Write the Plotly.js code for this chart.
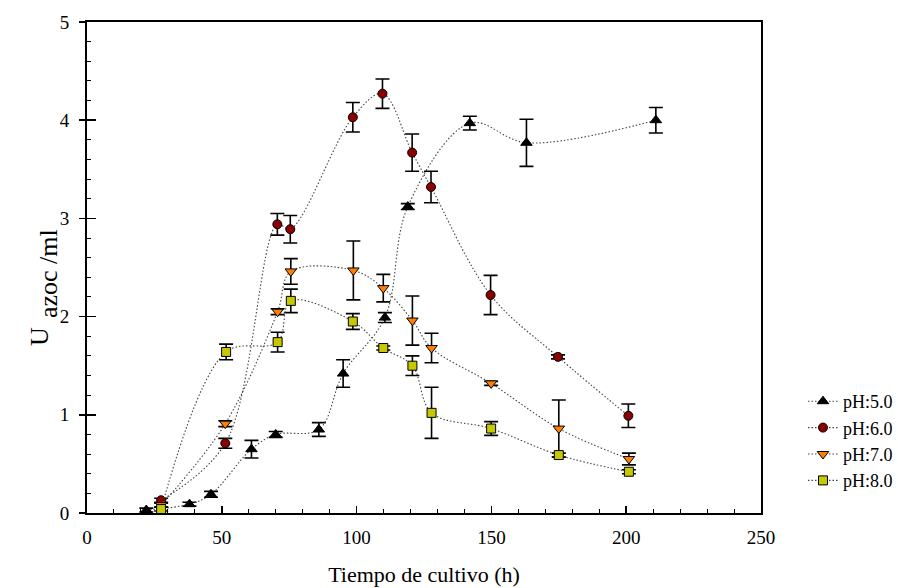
<!DOCTYPE html>
<html>
<head>
<meta charset="utf-8">
<script src="https://cdn.plot.ly/plotly-3.0.1.min.js"></script>
<style>html,body{margin:0;padding:0;background:#fff;}#chart{width:898px;height:588px;}</style>
</head>
<body>
<div id="chart"></div>
<script>
// pH 5.0
const x5 = [22, 38, 46, 61, 70, 86, 95, 110.5, 119, 142, 163, 211];
const y5 = [0.03, 0.09, 0.19, 0.65, 0.80, 0.85, 1.42, 1.99, 3.12, 3.97, 3.77, 4.00];
const e5 = [0.02, 0.02, 0.03, 0.09, 0.03, 0.07, 0.14, 0.05, 0.03, 0.07, 0.24, 0.13];
// pH 6.0
const x6 = [27.5, 51.3, 70.6, 75.4, 98.6, 109.6, 120.6, 127.6, 149.7, 174.7, 200.8];
const y6 = [0.13, 0.71, 2.94, 2.89, 4.03, 4.27, 3.67, 3.32, 2.22, 1.59, 0.99];
const e6 = [0.02, 0.05, 0.11, 0.14, 0.15, 0.15, 0.19, 0.16, 0.20, 0.02, 0.12];
// pH 7.0
const x7 = [27.5, 51.3, 70.7, 75.6, 98.8, 109.9, 120.7, 127.8, 149.9, 175, 201];
const y7 = [0.08, 0.91, 2.05, 2.46, 2.47, 2.29, 1.96, 1.68, 1.32, 0.86, 0.55];
const e7 = [0.02, 0.03, 0.03, 0.13, 0.30, 0.14, 0.25, 0.15, 0.02, 0.29, 0.06];
// pH 8.0
const x8 = [27.5, 51.6, 70.7, 75.6, 98.6, 109.9, 120.7, 127.8, 149.9, 175, 201];
const y8 = [0.04, 1.64, 1.74, 2.16, 1.95, 1.68, 1.50, 1.02, 0.86, 0.59, 0.42];
const e8 = [0.02, 0.08, 0.10, 0.12, 0.08, 0.02, 0.10, 0.26, 0.07, 0.02, 0.02];

const names = ["pH:5.0", "pH:6.0", "pH:7.0", "pH:8.0"];
const xTickVals = [0, 50, 100, 150, 200, 250];
const yTickVals = [0, 1, 2, 3, 4, 5];

const FONT = "Liberation Serif, Times New Roman, serif";
const lineStyle = {color: "#444", width: 1.1, dash: "1.5px,2px", shape: "spline", smoothing: 1};

function mk(x, y, e, name, symbol, color, size) {
  return {
    type: "scatter", mode: "lines+markers", name: name, x: x, y: y,
    line: lineStyle,
    marker: {symbol: symbol, color: color, size: size, line: {color: "#000", width: 1}},
    error_y: {type: "data", array: e, visible: true, color: "#000", thickness: 1.6, width: 7}
  };
}

const data = [
  mk(x5, y5, e5, names[0], "triangle-up", "#000000", 10),
  mk(x6, y6, e6, names[1], "circle", "#8B0000", 9),
  mk(x7, y7, e7, names[2], "triangle-down", "#FF8000", 10),
  mk(x8, y8, e8, names[3], "square", "#C8C800", 9),
  {type: "scatter", x: [0], y: [0], yaxis: "y2", mode: "markers", marker: {opacity: 0}, showlegend: false, hoverinfo: "skip"}
];

const L = 87, R = 137, T = 22, B = 75;
const W = 898 - L - R, H = 588 - T - B;
function px(p) { return (p - L) / W; }
function py(p) { return (588 - B - p) / H; }

const layout = {
  width: 898, height: 588,
  margin: {l: L, r: R, t: T, b: B, pad: 0, autoexpand: false},
  paper_bgcolor: "#fff", plot_bgcolor: "#fff",
  font: {family: FONT, color: "#000", size: 19},
  showlegend: true,
  legend: {xref: "container", yref: "container", x: 803 / 898, y: 1 - 383 / 588, xanchor: "left", yanchor: "top",
           bgcolor: "rgba(0,0,0,0)", font: {family: FONT, size: 18, color: "#000"}, itemwidth: 30},
  xaxis: {
    range: [0, 250], tickvals: xTickVals, ticktext: xTickVals.map(String),
    showgrid: false, zeroline: false, showline: true, linecolor: "#000", linewidth: 2, mirror: true,
    ticks: "inside", ticklen: 7, tickwidth: 1.5, tickcolor: "#000", ticklabelstandoff: 6,
    minor: {dtick: 10, ticks: "inside", ticklen: 4, tickwidth: 1, tickcolor: "#000"},
    tickfont: {family: FONT, size: 19, color: "#000"},
    title: {text: "Tiempo de cultivo (h)", font: {family: FONT, size: 22, color: "#000"}, standoff: 20}
  },
  yaxis: {
    range: [0, 5], tickvals: yTickVals, ticktext: yTickVals.map(String),
    showgrid: false, zeroline: false, showline: true, linecolor: "#000", linewidth: 2, mirror: true,
    ticks: "inside", ticklen: 9, tickwidth: 1.5, tickcolor: "#000", ticklabelstandoff: 12,
    minor: {dtick: 0.2, ticks: "inside", ticklen: 4, tickwidth: 1, tickcolor: "#000"},
    tickfont: {family: FONT, size: 19, color: "#000"}
  },
  yaxis2: {
    overlaying: "y", side: "left", range: [0, 5], tickvals: yTickVals,
    showticklabels: false, showgrid: false, zeroline: false, showline: false,
    ticks: "outside", ticklen: 7, tickwidth: 1.5, tickcolor: "#000"
  },
  annotations: [
    {xref: "paper", yref: "paper", x: px(40), y: py(336), text: "U", textangle: -90, showarrow: false,
     font: {family: FONT, size: 26, color: "#000"}, xanchor: "center", yanchor: "middle"},
    {xref: "paper", yref: "paper", x: px(48), y: py(274), text: "azoc /ml", textangle: -90, showarrow: false,
     font: {family: FONT, size: 26, color: "#000"}, xanchor: "center", yanchor: "middle"}
  ]
};

Plotly.newPlot("chart", data, layout, {staticPlot: true, displayModeBar: false});
</script>
</body>
</html>
